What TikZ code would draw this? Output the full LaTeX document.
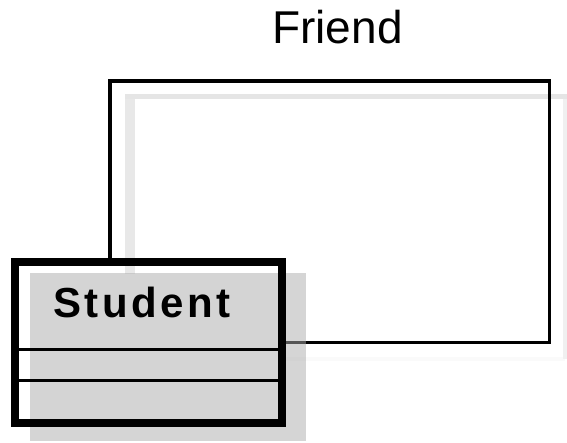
\documentclass[tikz,border=0pt]{standalone}
\usepackage{fontspec}
\setmainfont{Liberation Sans}
\newfontfamily\studentfont[LetterSpace=8.5]{Liberation Sans}
\begin{document}
\begin{tikzpicture}[x=1pt,y=-1pt,
  friendbox/.style={draw=black,line width=3.5pt},
  shadowtop/.style={draw=black!10,line width=5pt},
  shadowleft/.style={draw=black!9,line width=10pt},
  shadowright/.style={draw=black!6,line width=4pt},
  shadowbottom/.style={draw=black!2,line width=4pt},
  classbox/.style={draw=black,line width=8pt},
  classshadow/.style={fill=black!33,fill opacity=0.5},
  divider/.style={draw=black,line width=3pt},
  title/.style={inner sep=0pt,font=\fontsize{46}{50}\selectfont},
  classname/.style={inner sep=0pt,font=\studentfont\bfseries\fontsize{42}{46}\selectfont}]
\useasboundingbox (0,0) rectangle (567,442);
% Friend package shadow
\coordinate (fs1) at (130,96);
\coordinate (fs2) at (565,96);
\coordinate (fs3) at (565,359);
\coordinate (fs4) at (130,359);
\draw[shadowbottom] (fs4) -- (fs3);
\draw[shadowright] (fs2) -- (fs3);
\draw[shadowleft] (fs1) -- (fs4);
\draw[shadowtop] (125,96) -- (567,96);
% Friend package
\draw[friendbox] (110,81) rectangle (549.5,342.5);
\node[title,anchor=base] (friendlabel) at (337.5,43) {Friend};
% Student class
\coordinate (snw) at (15,262);
\coordinate (sse) at (282,423);
\fill[white] (snw) rectangle (sse);
\begin{scope}
  \clip (15,262) rectangle (282,273);
  \draw[shadowleft] (fs1) -- (fs4);
\end{scope}
\fill[classshadow] (30,273) rectangle (306,441);
\draw[classbox] (snw) rectangle (sse);
\coordinate (d1w) at (15,349);
\coordinate (d1e) at (282,349);
\coordinate (d2w) at (15,380);
\coordinate (d2e) at (282,380);
\draw[divider] (d1w) -- (d1e);
\draw[divider] (d2w) -- (d2e);
\node[classname,anchor=base west] (student) at (53,317) {Student};
\end{tikzpicture}
\end{document}
